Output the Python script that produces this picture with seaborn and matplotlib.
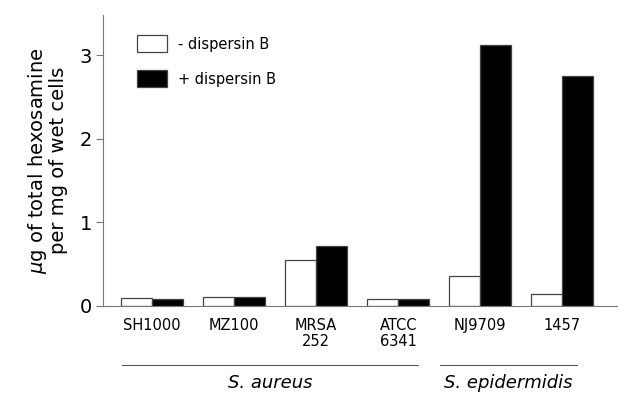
import matplotlib
matplotlib.use("Agg")
import matplotlib.pyplot as plt
import seaborn as sns
import pandas as pd

strains = ["SH1000", "MZ100", "MRSA\n252", "ATCC\n6341", "NJ9709", "1457"]
minus_dspb = [0.10, 0.11, 0.55, 0.08, 0.36, 0.14]
plus_dspb = [0.08, 0.11, 0.72, 0.08, 3.12, 2.75]
treatments = ["- dispersin B", "+ dispersin B"]
species = ["S. aureus", "S. epidermidis"]

df = pd.DataFrame({
    "strain": strains * 2,
    "value": minus_dspb + plus_dspb,
    "treatment": [treatments[0]] * len(strains) + [treatments[1]] * len(strains),
})

sns.set_style("white")
plt.rcParams["font.family"] = ["DejaVu Sans"]
plt.rcParams["text.color"] = "black"
plt.rcParams["axes.labelcolor"] = "black"
plt.rcParams["xtick.color"] = "black"
plt.rcParams["ytick.color"] = "black"

fig = plt.figure(figsize=(6.18, 3.94), dpi=100)
ax = fig.add_axes([0.1667, 0.2234, 0.8333, 0.7386])

sns.barplot(data=df, x="strain", y="value", hue="treatment",
            palette={treatments[0]: "white", treatments[1]: "black"},
            width=0.76, edgecolor="#444444", linewidth=0.9, ax=ax)

ax.set_xlim(-0.6, 5.68)
ax.set_ylim(0, 3.48)
ax.set_yticks([0, 1, 2, 3])
ax.tick_params(axis="y", left=True, length=5, width=0.8, color="#777777",
               labelsize=14, pad=3)
ax.tick_params(axis="x", bottom=False, labelsize=10.5, pad=5)
for lbl in ax.get_xticklabels():
    lbl.set_linespacing(1.1)
for s in ["top", "right"]:
    ax.spines[s].set_visible(False)
for s in ["left", "bottom"]:
    ax.spines[s].set_color("#777777")
    ax.spines[s].set_linewidth(0.8)

ax.set_xlabel("")
ax.set_ylabel("$\\mu$g of total hexosamine\nper mg of wet cells", fontsize=14,
              labelpad=8, linespacing=1.05)

leg = ax.legend(loc="upper left", bbox_to_anchor=(0.04, 0.975), frameon=False,
                fontsize=10.5, handlelength=2.1, handleheight=1.4,
                labelspacing=1.25, handletextpad=0.7)

# species brackets below the axis
tr = ax.get_xaxis_transform()
for (x0, x1), name in zip([(-0.37, 3.24), (3.51, 5.18)], species):
    ax.plot([x0, x1], [-0.203, -0.203], color="#555555", lw=0.8,
            transform=tr, clip_on=False)
    ax.text((x0 + x1) / 2, -0.265, name, style="italic", fontsize=13,
            ha="center", va="center", transform=tr)

fig.savefig("out.png", dpi=100)
